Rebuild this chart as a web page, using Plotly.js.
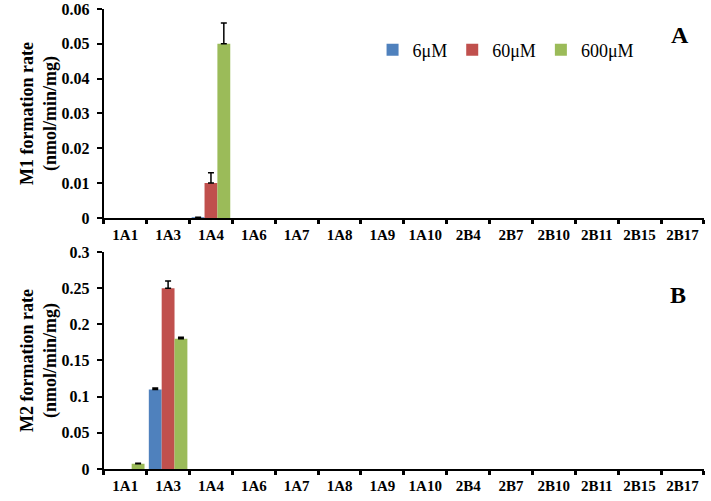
<!DOCTYPE html>
<html>
<head>
<meta charset="utf-8">
<script src="https://cdn.plot.ly/plotly-3.0.1.min.js"></script>
<style>
  html, body { margin: 0; padding: 0; background: #ffffff; }
  #chart { width: 711px; height: 501px; }
</style>
</head>
<body>
<div id="chart"></div>
<script>
// Isoformas (eje X compartido por ambos paneles)
const isoformas = ['1A1', '1A3', '1A4', '1A6', '1A7', '1A8', '1A9', '1A10',
                   '2B4', '2B7', '2B10', '2B11', '2B15', '2B17'];
const concentraciones = ['6μM', '60μM', '600μM'];
const colores = ['#4f81bd', '#c0504d', '#9bbb59'];

// Panel A: formación de M1 (nmol/min/mg)
const m1_6 = [0, 0, 0.0002, 0, 0, 0, 0, 0, 0, 0, 0, 0, 0, 0];
const m1_60 = [0, 0, 0.010, 0, 0, 0, 0, 0, 0, 0, 0, 0, 0, 0];
const m1_600 = [0, 0, 0.050, 0, 0, 0, 0, 0, 0, 0, 0, 0, 0, 0];
const m1_err6 = [0, 0, 0, 0, 0, 0, 0, 0, 0, 0, 0, 0, 0, 0];
const m1_err60 = [0, 0, 0.003, 0, 0, 0, 0, 0, 0, 0, 0, 0, 0, 0];
const m1_err600 = [0, 0, 0.006, 0, 0, 0, 0, 0, 0, 0, 0, 0, 0, 0];

// Panel B: formación de M2 (nmol/min/mg)
const m2_6 = [0, 0.110, 0, 0, 0, 0, 0, 0, 0, 0, 0, 0, 0, 0];
const m2_60 = [0, 0.250, 0, 0, 0, 0, 0, 0, 0, 0, 0, 0, 0, 0];
const m2_600 = [0.007, 0.180, 0, 0, 0, 0, 0, 0, 0, 0, 0, 0, 0, 0];
const m2_err6 = [0, 0.002, 0, 0, 0, 0, 0, 0, 0, 0, 0, 0, 0, 0];
const m2_err60 = [0, 0.010, 0, 0, 0, 0, 0, 0, 0, 0, 0, 0, 0, 0];
const m2_err600 = [0.001, 0.002, 0, 0, 0, 0, 0, 0, 0, 0, 0, 0, 0, 0];

const fuenteSerif = 'Liberation Serif';

function barra(valores, errores, i, ejeX, ejeY, leyenda) {
    // Las barras en cero no se dibujan (ni su barra de error)
    const y = valores.map(v => v > 0 ? v : null);
    const err = errores.map((e, k) => valores[k] > 0 ? e : null);
    return {
        type: 'bar',
        x: isoformas,
        y: y,
        name: concentraciones[i],
        xaxis: ejeX,
        yaxis: ejeY,
        showlegend: leyenda,
        marker: { color: colores[i], line: { width: 0 } },
        error_y: {
            type: 'data',
            symmetric: false,
            array: err,
            arrayminus: err.map(e => e === null ? null : 0),
            color: '#000000',
            thickness: 1.5,
            width: 3
        }
    };
}

const trazas = [
    barra(m1_6, m1_err6, 0, 'x', 'y', true),
    barra(m1_60, m1_err60, 1, 'x', 'y', true),
    barra(m1_600, m1_err600, 2, 'x', 'y', true),
    barra(m2_6, m2_err6, 0, 'x2', 'y2', false),
    barra(m2_60, m2_err60, 1, 'x2', 'y2', false),
    barra(m2_600, m2_err600, 2, 'x2', 'y2', false)
];

const ejeX = {
    type: 'category',
    tickson: 'boundaries',
    ticks: 'outside',
    ticklen: 4,
    tickwidth: 3,
    tickcolor: '#000000',
    tickangle: 0,
    showline: true,
    linecolor: '#000000',
    linewidth: 2,
    showgrid: false,
    zeroline: false,
    tickfont: { family: fuenteSerif, size: 15, color: '#000000', weight: 'bold' },
    ticklabelstandoff: 2,
    automargin: false
};

function ejeY(titulo, rango, paso, dominio) {
    return {
        domain: dominio,
        range: rango,
        dtick: paso,
        ticks: 'outside',
        ticklen: 5,
        tickwidth: 2,
        tickcolor: '#000000',
        showline: true,
        linecolor: '#000000',
        linewidth: 2,
        showgrid: false,
        zeroline: false,
        tickfont: { family: fuenteSerif, size: 16, color: '#000000', weight: 'bold' },
        ticklabelstandoff: 4,
        automargin: false,
        title: {
            text: titulo,
            standoff: 0,
            font: { family: fuenteSerif, size: 18, color: '#000000', weight: 'bold' }
        }
    };
}

const layout = {
    width: 711,
    height: 501,
    paper_bgcolor: '#ffffff',
    plot_bgcolor: '#ffffff',
    margin: { l: 0, r: 0, t: 0, b: 0 },
    barmode: 'group',
    bargap: 0.1,
    bargroupgap: 0,
    xaxis: Object.assign({}, ejeX, { domain: [0.146, 0.99], anchor: 'y' }),
    xaxis2: Object.assign({}, ejeX, { domain: [0.146, 0.99], anchor: 'y2' }),
    yaxis: ejeY('M1 formation rate<br>(nmol/min/mg)', [0, 0.06], 0.01, [0.565, 0.982]),
    yaxis2: ejeY('M2 formation rate<br>(nmol/min/mg)', [0, 0.3], 0.05, [0.064, 0.497]),
    showlegend: true,
    legend: {
        orientation: 'h',
        x: 0.524,
        y: 0.9,
        xanchor: 'left',
        yanchor: 'middle',
        font: { family: fuenteSerif, size: 18, color: '#000000' },
        itemwidth: 30,
        bgcolor: 'rgba(0,0,0,0)'
    },
    annotations: [
        { text: 'A', x: 0.957, y: 0.93, xref: 'paper', yref: 'paper', showarrow: false,
          xanchor: 'center', yanchor: 'middle',
          font: { family: fuenteSerif, size: 24, color: '#000000', weight: 'bold' } },
        { text: 'B', x: 0.954, y: 0.411, xref: 'paper', yref: 'paper', showarrow: false,
          xanchor: 'center', yanchor: 'middle',
          font: { family: fuenteSerif, size: 24, color: '#000000', weight: 'bold' } }
    ]
};

Plotly.newPlot('chart', trazas, layout, { displayModeBar: false, staticPlot: true });
</script>
</body>
</html>
